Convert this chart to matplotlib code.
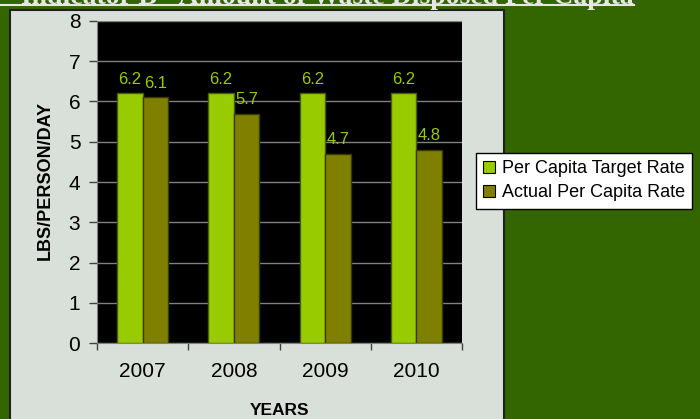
import matplotlib
matplotlib.use("Agg")
import matplotlib.pyplot as plt
import numpy as np
from matplotlib.patches import Rectangle
from matplotlib.lines import Line2D

years = ['2007', '2008', '2009', '2010']
target_rate = [6.2, 6.2, 6.2, 6.2]
actual_rate = [6.1, 5.7, 4.7, 4.8]
series_names = ['Per Capita Target Rate', 'Actual Per Capita Rate']
title = 'Indicator B - Amount of Waste Disposed Per Capita'

plt.rcParams['font.family'] = ['Liberation Sans', 'DejaVu Sans']

W, H = 700, 419
fig = plt.figure(figsize=(W / 100, H / 100), dpi=100, facecolor='#336600')

# light panel behind the chart
panel = Rectangle((10 / W, -0.05), (504 - 10) / W, 1.05 - 10 / H,
                  transform=fig.transFigure, facecolor='#D9E0D9',
                  edgecolor='#202020', linewidth=1.5, zorder=0)
fig.add_artist(panel)

# cut-off title at the top
fig.text(634 / W, 1 - 3.5 / H, title, ha='right', va='baseline',
         family='Liberation Serif', weight='bold', fontsize=20, color='#E6E6E6')
fig.add_artist(Line2D([0, 634 / W], [1 - 5.5 / H, 1 - 5.5 / H],
                      transform=fig.transFigure, color='#E6E6E6', linewidth=1.5))

ax = fig.add_axes([97 / W, (H - 343) / H, (462 - 97) / W, (343 - 21) / H])
ax.set_facecolor('black')

x = np.arange(len(years))
w = 0.28
b1 = ax.bar(x - w / 2, target_rate, w, color='#99CC00', edgecolor='#4A6000',
            linewidth=1, label=series_names[0], zorder=3)
b2 = ax.bar(x + w / 2, actual_rate, w, color='#808000', edgecolor='#3A3A00',
            linewidth=1, label=series_names[1], zorder=3)

for bars, vals in ((b1, target_rate), (b2, actual_rate)):
    for rect, v in zip(bars, vals):
        ax.annotate(f'{v:.1f}', (rect.get_x() + rect.get_width() / 2, v),
                    xytext=(0, 7), textcoords='offset points', ha='center',
                    va='baseline', fontsize=12, color='#99CC00', zorder=4)

ax.set_xlim(-0.5, 3.5)
ax.set_ylim(0, 8)
ax.set_yticks(range(0, 9))
ax.yaxis.grid(True, color='#808080', linewidth=1, zorder=1)
ax.set_axisbelow(True)

ax.set_xticks(x)
ax.set_xticklabels(years)
ax.set_xticks(np.arange(-0.5, 4, 1), minor=True)
ax.tick_params(axis='x', which='major', length=0, pad=14, labelsize=15)
ax.tick_params(axis='x', which='minor', length=5, width=1, color='#404040', direction='out')
ax.tick_params(axis='y', length=6, width=1, color='#404040', pad=6, labelsize=15)

for s in ('top', 'right'):
    ax.spines[s].set_visible(False)
ax.spines['left'].set_color('#808080')
ax.spines['bottom'].set_color('#808080')

fig.text(45 / W, 1 - 181 / H, 'LBS/PERSON/DAY', rotation=90, ha='center',
         va='center', fontsize=13, weight='bold', color='black')
fig.text(279.5 / W, 1 - 403 / H, 'YEARS', ha='center', va='top',
         fontsize=12.5, weight='bold', color='black')

leg = fig.legend(handles=[b1, b2], loc='upper left', bbox_to_anchor=(476 / W, 1 - 153 / H),
                 borderaxespad=0, fancybox=False, framealpha=1, fontsize=13,
                 handlelength=0.67, handleheight=0.67, handletextpad=0.35,
                 labelspacing=0.4, borderpad=0.4)
leg.get_frame().set_edgecolor('black')
leg.get_frame().set_linewidth(1)
for h in leg.legend_handles:
    h.set_edgecolor('black')
    h.set_linewidth(0.8)

fig.savefig('out.png', dpi=100, facecolor=fig.get_facecolor())
